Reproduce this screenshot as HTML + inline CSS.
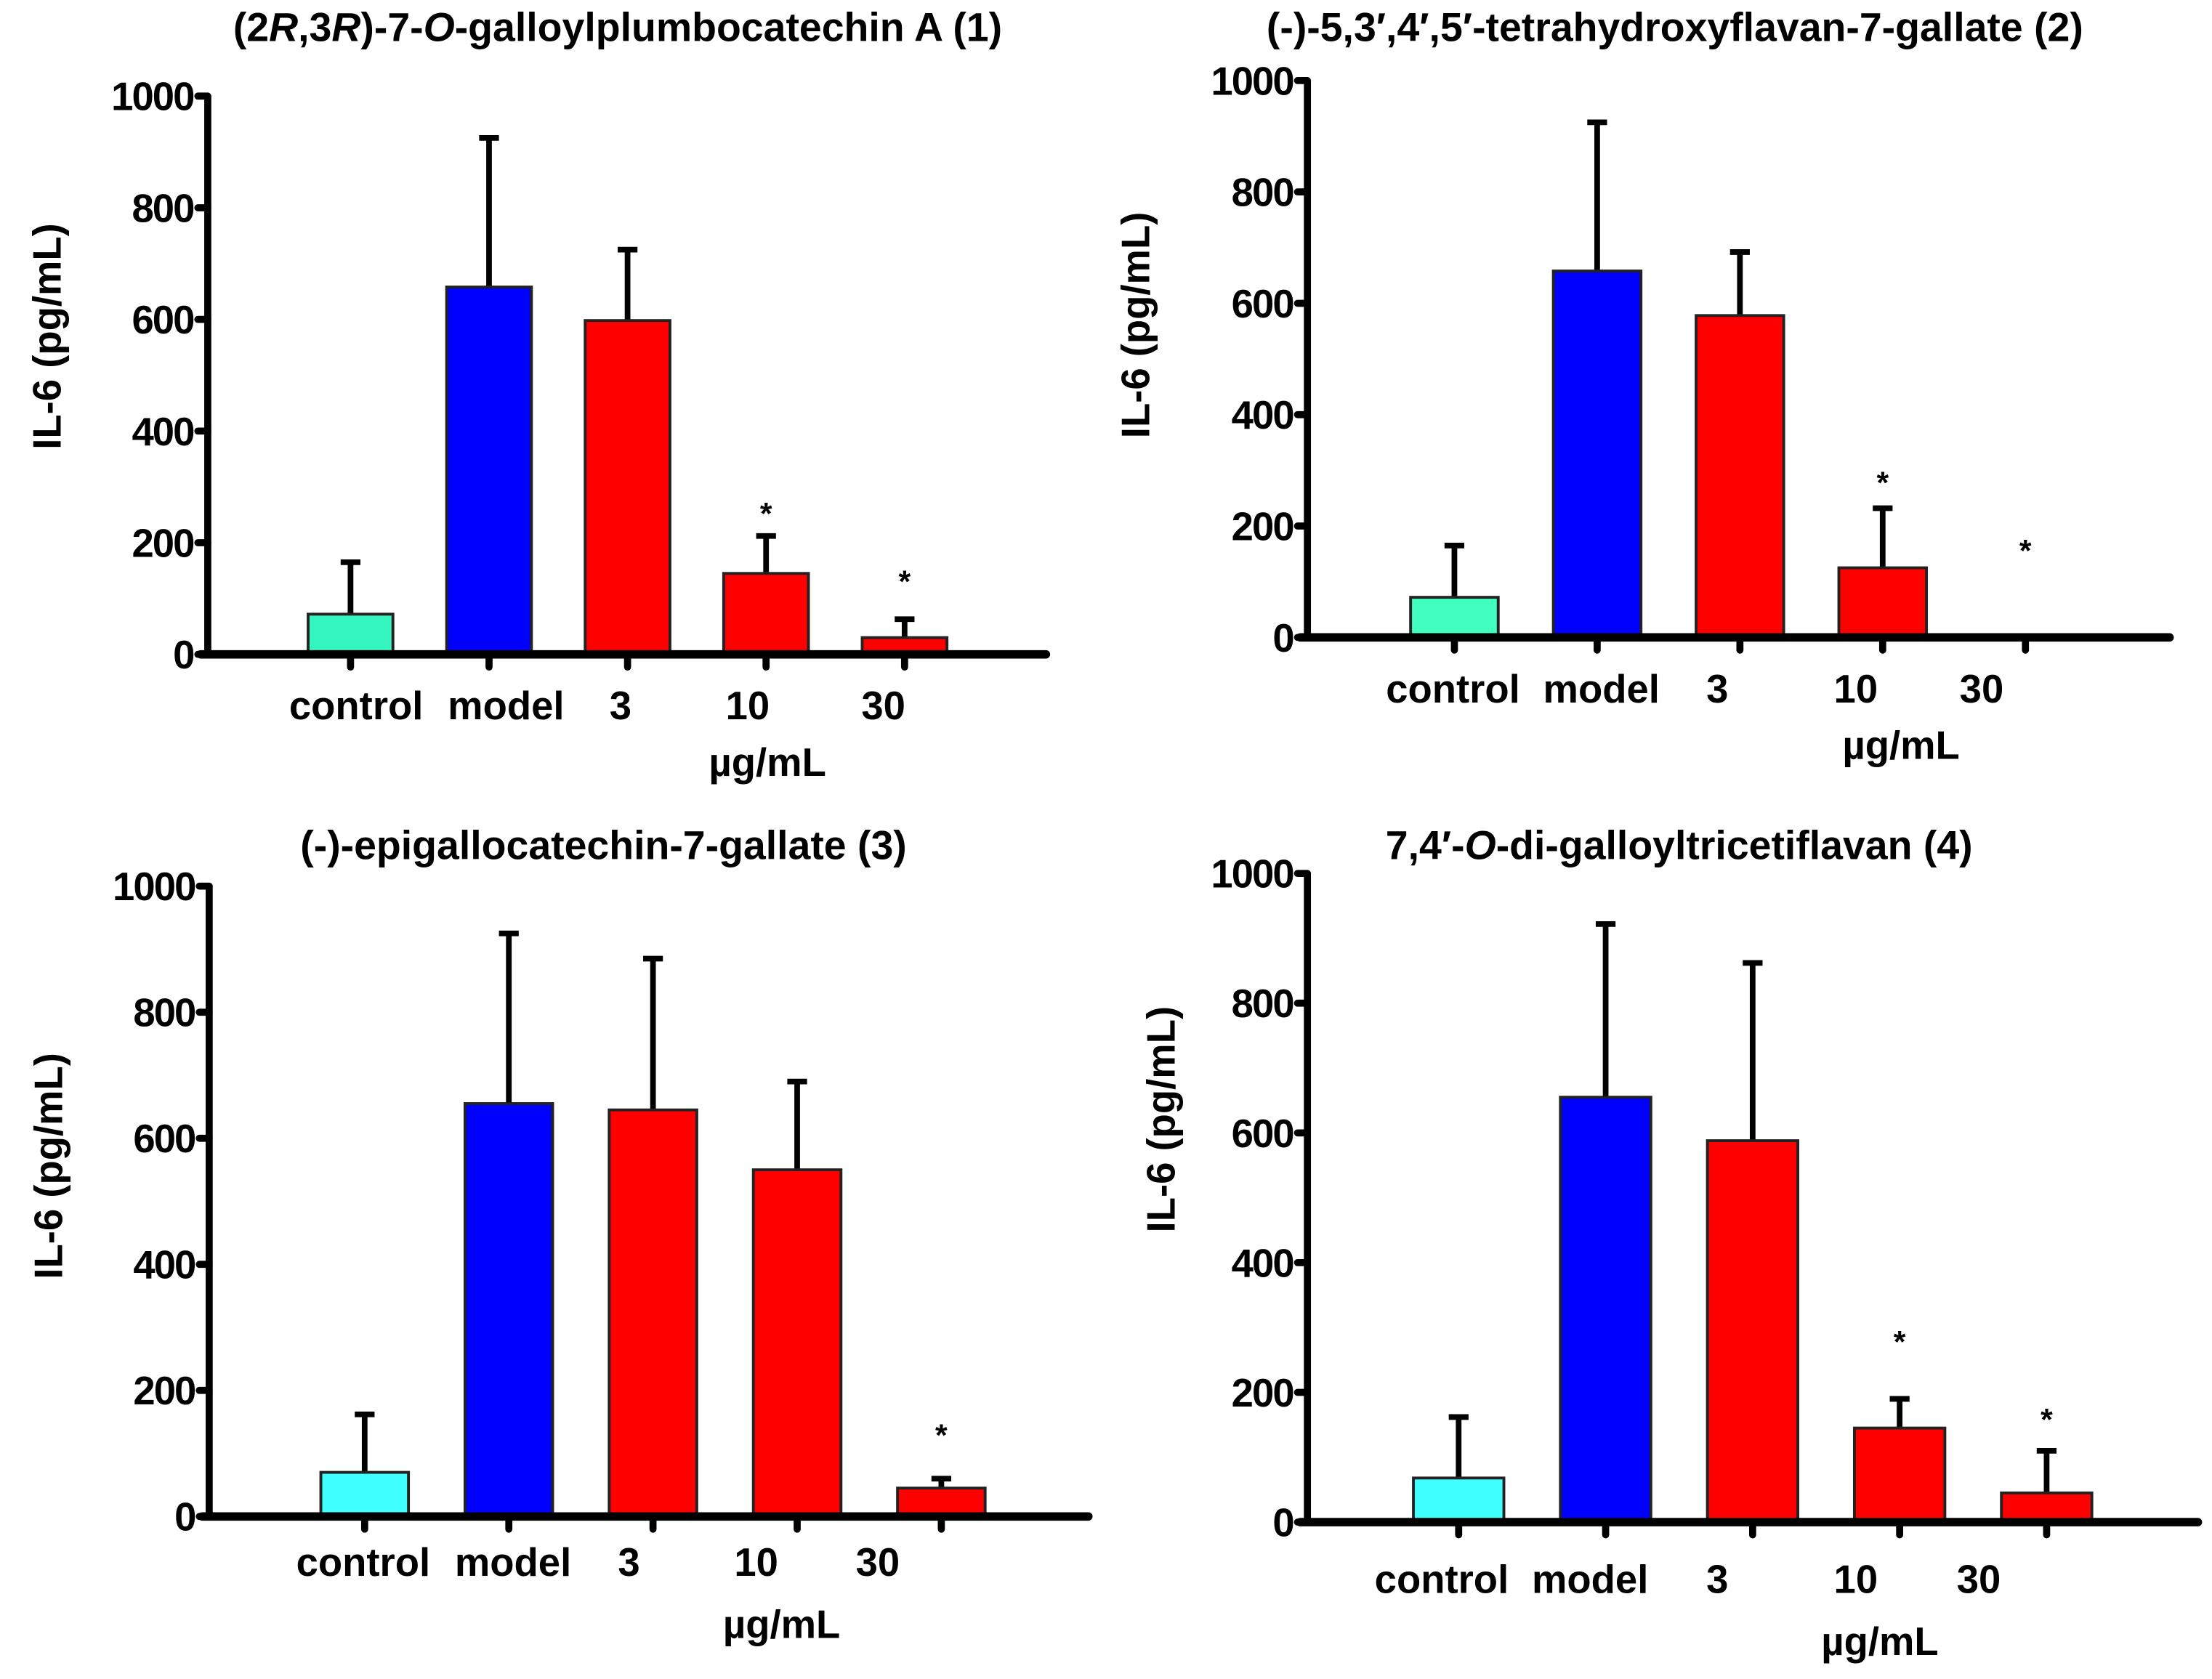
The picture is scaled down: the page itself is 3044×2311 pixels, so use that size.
<!DOCTYPE html>
<html><head><meta charset="utf-8">
<style>
html,body{margin:0;padding:0;background:#fff;}
svg{display:block;}
text{font-family:"Liberation Sans",Arial,sans-serif;font-weight:bold;fill:#000;}
</style></head>
<body>
<svg id="fig" width="3044" height="2311" viewBox="0 0 1565 1188" preserveAspectRatio="none" xmlns="http://www.w3.org/2000/svg"></svg>
<script>
const categories = ["control","model","3","10","30"];
const yTicks = [0,200,400,600,800,1000];
const means1 = [72,658,598,145,30];
const errs1 = [165,925,725,212,63];
const stars1 = [false,false,false,true,true];
const means2 = [72,658,578,125,0];
const errs2 = [165,925,692,232,0];
const stars2 = [false,false,false,true,true];
const means3 = [70,655,645,550,45];
const errs3 = [162,925,885,690,60];
const stars3 = [false,false,false,false,true];
const means4 = [68,655,588,145,45];
const errs4 = [162,922,862,190,110];
const stars4 = [false,false,false,true,true];

const panels = [
 {name:"panel-1",title:'(2<tspan font-style="italic">R</tspan>,3<tspan font-style="italic">R</tspan>)-7-<tspan font-style="italic">O</tspan>-galloylplumbocatechin A (1)',tx:437,ty:29,ax:147,y0:463,y1:68,xEnd:740,c0:248,step:98,bw:60,means:means1,errs:errs1,stars:stars1,ctl:"#33f5bd",labY:509,labOff:[4,12,-5,-13,-15],unitX:543,unitY:549,ylx:33,ylc:238,starY:[0,0,0,360,408]},
 {name:"panel-2",title:"(-)-5,3′,4′,5′-tetrahydroxyflavan-7-gallate (2)",tx:1185,ty:29,ax:925,y0:451,y1:57,xEnd:1535,c0:1029,step:101,bw:62,means:means2,errs:errs2,stars:stars2,ctl:"#40ffc0",labY:497,labOff:[-1,3,-16,-19,-31],unitX:1345,unitY:537,ylx:803,ylc:230,starY:[0,0,0,338,386]},
 {name:"panel-3",title:"(-)-epigallocatechin-7-gallate (3)",tx:427,ty:608,ax:148,y0:1073,y1:627,xEnd:770,c0:258,step:102,bw:62,means:means3,errs:errs3,stars:stars3,ctl:"#40ffff",labY:1115,labOff:[-1,3,-17,-29,-45],unitX:553,unitY:1159,ylx:34,ylc:825,starY:[0,0,0,0,1012]},
 {name:"panel-4",title:'7,4′-<tspan font-style="italic">O</tspan>-di-galloyltricetiflavan (4)',tx:1188,ty:608,ax:925,y0:1077,y1:618,xEnd:1555,c0:1032,step:104,bw:64,means:means4,errs:errs4,stars:stars4,ctl:"#40ffff",labY:1127,labOff:[-12,-11,-25,-31,-48],unitX:1330,unitY:1171,ylx:821,ylc:792,starY:[0,0,0,946,1001]}
];
const NS="http://www.w3.org/2000/svg";
const svg=document.getElementById('fig');
function mk(tag,attrs,parent){const e=document.createElementNS(NS,tag);for(const k in attrs)e.setAttribute(k,attrs[k]);parent.appendChild(e);return e;}
panels.forEach(p=>{
  const g=mk('g',{},svg);
  
  
  const ys=v=>p.y0-(v/1000)*(p.y0-p.y1);
  const xs=i=>p.c0+i*p.step;
  const t=mk('text',{x:p.tx,y:p.ty,'text-anchor':'middle','font-size':28.5},g);
  t.innerHTML=p.title;
  
  
  const yl=mk('text',{x:0,y:0,'text-anchor':'middle','font-size':28,transform:`translate(${p.ylx+10},${p.ylc}) rotate(-90)`},g);
  yl.textContent="IL-6 (pg/mL)";
  
  
  p.means.forEach((m,i)=>{
    const cx=xs(i);
    if(p.errs[i]>m){
      const eb=mk('path',{d:`M${cx},${ys(m)}V${ys(p.errs[i])}M${cx-7},${ys(p.errs[i])}H${cx+7}`,stroke:'#000','stroke-width':4,fill:'none'},g);
      
      
    }
    if(m>0){
      const r=mk('rect',{x:cx-p.bw/2,y:ys(m),width:p.bw,height:p.y0-ys(m),fill:i==0?p.ctl:(i==1?'#0000ff':'#ff0000'),stroke:'#222','stroke-width':2},g);
      
      
    }
    if(p.stars[i]){
      const s=mk('text',{x:cx,y:p.starY[i]+11,'text-anchor':'middle','font-size':22,'font-weight':'normal'},g);
      s.textContent="*";
      
      
    }
    const tk=mk('line',{x1:cx,x2:cx,y1:p.y0,y2:p.y0+9,stroke:'#000','stroke-width':5,'stroke-linecap':'round'},g);
    
    
  });
  categories.forEach((c,i)=>{
    const l=mk('text',{x:xs(i)+p.labOff[i],y:p.labY,'text-anchor':'middle','font-size':28},g);
    l.textContent=c;
    
    
  });
  const u=mk('text',{x:p.unitX,y:p.unitY,'text-anchor':'middle','font-size':28},g);
  u.textContent="µg/mL";
  
  
  const ya=mk('line',{x1:p.ax,x2:p.ax,y1:p.y1,y2:p.y0,stroke:'#000','stroke-width':5},g);
  
  
  const xa=mk('line',{x1:p.ax-5,x2:p.xEnd,y1:p.y0,y2:p.y0,stroke:'#000','stroke-width':6,'stroke-linecap':'round'},g);
  
  
  yTicks.forEach(v=>{
    const tl=mk('line',{x1:p.ax-7,x2:p.ax,y1:ys(v),y2:ys(v),stroke:'#000','stroke-width':5,'stroke-linecap':'round'},g);
    
    
    const tt=mk('text',{x:p.ax-10,y:ys(v)+10,'text-anchor':'end','font-size':28,'letter-spacing':'-1'},g);
    tt.textContent=v;
    
    
  });
});
</script>
</body></html>
